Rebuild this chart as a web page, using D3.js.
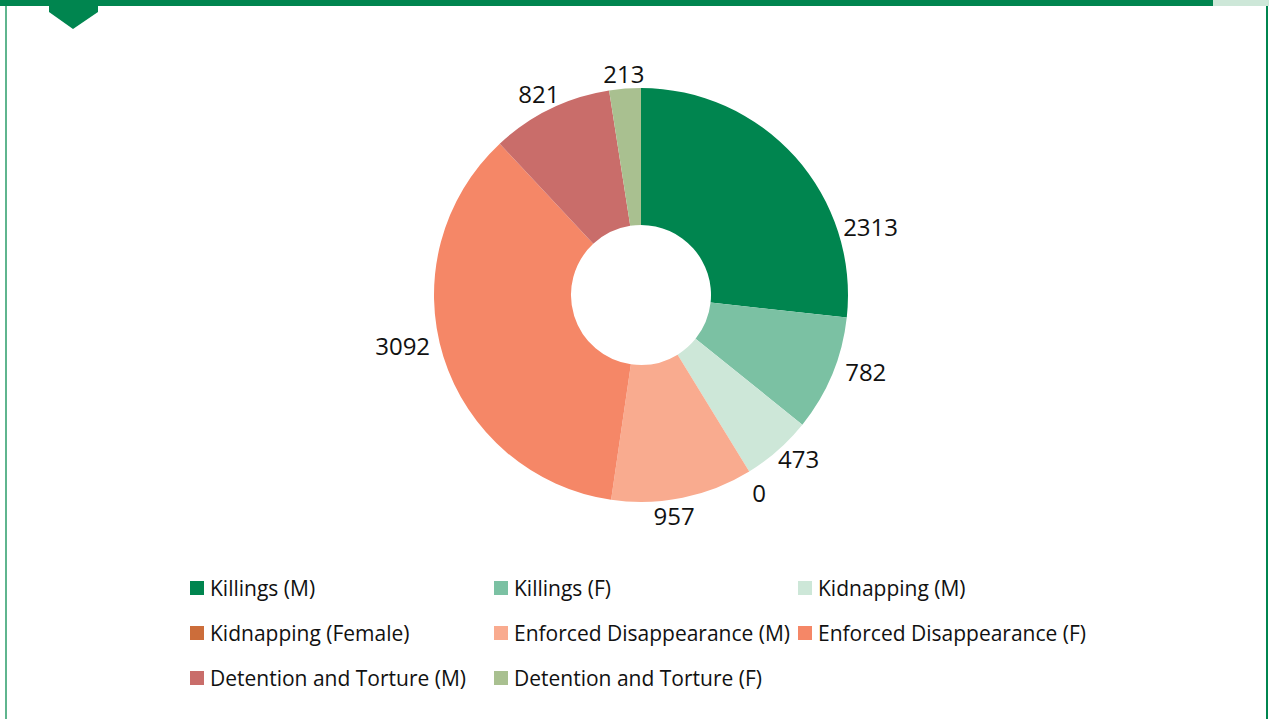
<!DOCTYPE html>
<meta charset="utf-8">
<style>
    body { margin: 0; background: #fff; }
    text { font-family: "Open Sans", sans-serif; fill: #111; }
</style>
<body>
<script src="https://d3js.org/d3.v7.min.js"></script>
<script>
    var categories = ["Killings (M)", "Killings (F)", "Kidnapping (M)", "Kidnapping (Female)",
        "Enforced Disappearance (M)", "Enforced Disappearance (F)",
        "Detention and Torture (M)", "Detention and Torture (F)"];
    var values = [2313, 782, 473, 0, 957, 3092, 821, 213];
    var colors = ["#00854f", "#7bc1a3", "#cde7d8", "#cc6d3a", "#f9ab8f", "#f58767", "#c96d6a", "#a9c090"];

    var W = 1269, H = 719;
    var cx = 641, cy = 295, outerR = 207, innerR = 70;

    var svg = d3.select("body").append("svg")
        .attr("width", W)
        .attr("height", H);

    // frame
    svg.append("rect").attr("x", 0).attr("y", 0).attr("width", 1213).attr("height", 6).attr("fill", "#00854f");
    svg.append("rect").attr("x", 1213).attr("y", 0).attr("width", W - 1213).attr("height", 6).attr("fill", "#cde7d8");
    svg.append("rect").attr("x", 5).attr("y", 6).attr("width", 2).attr("height", H).attr("fill", "#5fb58e");
    svg.append("rect").attr("x", 1266).attr("y", 6).attr("width", 2).attr("height", H).attr("fill", "#00854f");
    svg.append("polygon")
        .attr("points", "49,5 98,5 98,12 73,29 49,12")
        .attr("fill", "#00854f");

    var data = categories.map((c, i) => ({name: c, value: values[i], color: colors[i]}));

    var pie = d3.pie().sort(null).value(d => d.value);
    var arc = d3.arc().innerRadius(innerR).outerRadius(outerR);
    var arcs = pie(data);

    var g = svg.append("g").attr("transform", "translate(" + cx + "," + cy + ")");

    g.selectAll("path")
        .data(arcs)
        .enter().append("path")
        .attr("d", arc)
        .attr("fill", d => d.data.color);

    // labels were hand-dragged in the original: [angle nudge in degrees, radial nudge]
    var labelNudge = {
        "Killings (M)": [25.6, 0],
        "Killings (F)": [-3.5, 5],
        "Kidnapping (M)": [-2.5, -4],
        "Kidnapping (Female)": [0.8, 9],
        "Enforced Disappearance (M)": [3.1, 1],
        "Enforced Disappearance (F)": [5.1, 5],
        "Detention and Torture (M)": [-1, -3],
        "Detention and Torture (F)": [0, 0]
    };
    var fontSize = 24;

    g.selectAll(".lbl")
        .data(arcs)
        .enter().append("text")
        .attr("class", "lbl")
        .attr("text-anchor", "middle")
        .attr("dominant-baseline", "central")
        .style("font-size", fontSize + "px")
        .text(d => d.data.value)
        .attr("transform", function(d) {
            var n = labelNudge[d.data.name] || [0, 0];
            var a = (d.startAngle + d.endAngle) / 2 + n[0] * Math.PI / 180;
            var w = this.getComputedTextLength();
            var s = Math.sin(a), c = Math.cos(a);
            var r = outerR + 3 + Math.abs(s) * w / 2 + Math.abs(c) * 10 + n[1];
            return "translate(" + (r * s) + "," + (-r * c - 1) + ")";
        });

    // legend, three columns
    var legend = svg.append("g").attr("transform", "translate(190,588)");
    data.forEach((d, i) => {
        var row = legend.append("g")
            .attr("transform", "translate(" + ((i % 3) * 304) + "," + (Math.floor(i / 3) * 45) + ")");
        row.append("rect").attr("x", 0).attr("y", -7).attr("width", 14).attr("height", 14).attr("fill", d.color);
        row.append("text").attr("x", 20).attr("y", 0)
            .attr("dominant-baseline", "central")
            .style("font-size", "21px")
            .text(d.name);
    });
</script>
</body>
</html>
